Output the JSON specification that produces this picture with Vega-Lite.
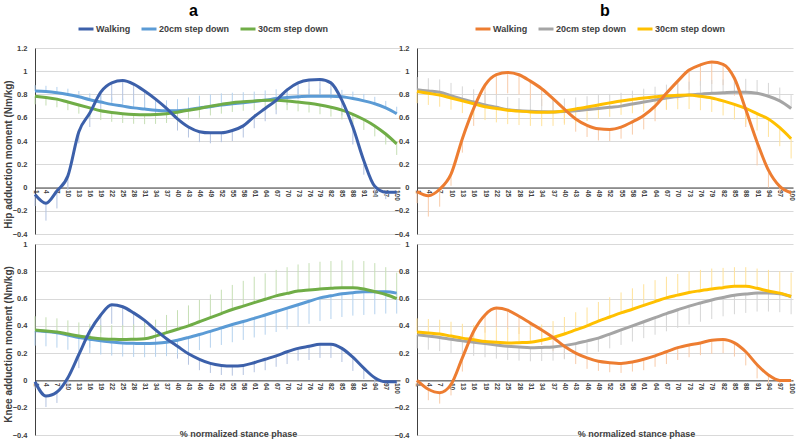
{
"$schema": "https://vega.github.io/schema/vega-lite/v6.json",
"padding": {"left": 3, "top": 3, "right": 0, "bottom": 0},
"background": "white",
"datasets": {
"hipA": [
{"x":1,"w":-0.06,"we":-0.16,"a":0.83,"ae":0.88,"b":0.785,"be":0.715},
{"x":4,"w":-0.135,"we":-0.285,"a":0.825,"ae":0.875,"b":0.775,"be":0.705},
{"x":7,"w":-0.03,"we":-0.18,"a":0.815,"ae":0.865,"b":0.76,"be":0.69},
{"x":10,"w":0.10,"we":-0.02,"a":0.80,"ae":0.85,"b":0.735,"be":0.665},
{"x":13,"w":0.48,"we":0.38,"a":0.78,"ae":0.83,"b":0.71,"be":0.635},
{"x":16,"w":0.64,"we":0.52,"a":0.755,"ae":0.81,"b":0.685,"be":0.605},
{"x":19,"w":0.82,"we":0.67,"a":0.735,"ae":0.79,"b":0.66,"be":0.58},
{"x":22,"w":0.90,"we":0.74,"a":0.715,"ae":0.775,"b":0.645,"be":0.565},
{"x":25,"w":0.92,"we":0.75,"a":0.70,"ae":0.765,"b":0.635,"be":0.555},
{"x":28,"w":0.89,"we":0.73,"a":0.685,"ae":0.755,"b":0.628,"be":0.548},
{"x":31,"w":0.83,"we":0.68,"a":0.675,"ae":0.75,"b":0.625,"be":0.545},
{"x":34,"w":0.76,"we":0.63,"a":0.665,"ae":0.745,"b":0.627,"be":0.547},
{"x":37,"w":0.68,"we":0.57,"a":0.66,"ae":0.75,"b":0.635,"be":0.555},
{"x":40,"w":0.59,"we":0.49,"a":0.66,"ae":0.76,"b":0.648,"be":0.568},
{"x":43,"w":0.52,"we":0.43,"a":0.67,"ae":0.775,"b":0.665,"be":0.585},
{"x":46,"w":0.48,"we":0.39,"a":0.685,"ae":0.79,"b":0.68,"be":0.60},
{"x":49,"w":0.47,"we":0.38,"a":0.695,"ae":0.80,"b":0.70,"be":0.62},
{"x":52,"w":0.47,"we":0.39,"a":0.71,"ae":0.81,"b":0.715,"be":0.635},
{"x":55,"w":0.49,"we":0.40,"a":0.72,"ae":0.815,"b":0.73,"be":0.65},
{"x":58,"w":0.53,"we":0.43,"a":0.73,"ae":0.82,"b":0.738,"be":0.66},
{"x":61,"w":0.61,"we":0.51,"a":0.74,"ae":0.825,"b":0.745,"be":0.665},
{"x":64,"w":0.68,"we":0.57,"a":0.75,"ae":0.835,"b":0.75,"be":0.67},
{"x":67,"w":0.75,"we":0.63,"a":0.765,"ae":0.845,"b":0.75,"be":0.67},
{"x":70,"w":0.84,"we":0.71,"a":0.775,"ae":0.85,"b":0.745,"be":0.665},
{"x":73,"w":0.90,"we":0.76,"a":0.78,"ae":0.85,"b":0.735,"be":0.655},
{"x":76,"w":0.925,"we":0.775,"a":0.785,"ae":0.85,"b":0.725,"be":0.645},
{"x":79,"w":0.93,"we":0.78,"a":0.785,"ae":0.85,"b":0.71,"be":0.63},
{"x":82,"w":0.90,"we":0.76,"a":0.785,"ae":0.85,"b":0.69,"be":0.61},
{"x":85,"w":0.75,"we":0.62,"a":0.78,"ae":0.84,"b":0.665,"be":0.585},
{"x":88,"w":0.52,"we":0.37,"a":0.765,"ae":0.825,"b":0.63,"be":0.545},
{"x":91,"w":0.23,"we":0.11,"a":0.745,"ae":0.805,"b":0.585,"be":0.495},
{"x":94,"w":0.01,"we":-0.08,"a":0.72,"ae":0.78,"b":0.53,"be":0.44},
{"x":97,"w":-0.04,"we":-0.10,"a":0.685,"ae":0.745,"b":0.46,"be":0.37},
{"x":100,"w":-0.04,"we":-0.09,"a":0.635,"ae":0.695,"b":0.375,"be":0.28}
],
"hipB": [
{"x":1,"w":-0.035,"we":-0.135,"a":0.84,"ae":0.95,"b":0.825,"be":0.725},
{"x":4,"w":-0.07,"we":-0.25,"a":0.83,"ae":0.94,"b":0.81,"be":0.71},
{"x":7,"w":-0.015,"we":-0.165,"a":0.82,"ae":0.93,"b":0.795,"be":0.695},
{"x":10,"w":0.115,"we":0.015,"a":0.79,"ae":0.90,"b":0.77,"be":0.67},
{"x":13,"w":0.42,"we":0.30,"a":0.76,"ae":0.87,"b":0.745,"be":0.64},
{"x":16,"w":0.68,"we":0.53,"a":0.735,"ae":0.845,"b":0.72,"be":0.61},
{"x":19,"w":0.88,"we":0.72,"a":0.71,"ae":0.82,"b":0.695,"be":0.58},
{"x":22,"w":0.97,"we":0.80,"a":0.69,"ae":0.80,"b":0.68,"be":0.56},
{"x":25,"w":0.99,"we":0.81,"a":0.67,"ae":0.78,"b":0.665,"be":0.545},
{"x":28,"w":0.97,"we":0.80,"a":0.66,"ae":0.77,"b":0.657,"be":0.537},
{"x":31,"w":0.915,"we":0.755,"a":0.655,"ae":0.765,"b":0.65,"be":0.53},
{"x":34,"w":0.85,"we":0.70,"a":0.652,"ae":0.762,"b":0.648,"be":0.528},
{"x":37,"w":0.765,"we":0.635,"a":0.65,"ae":0.76,"b":0.65,"be":0.53},
{"x":40,"w":0.675,"we":0.555,"a":0.653,"ae":0.765,"b":0.66,"be":0.54},
{"x":43,"w":0.59,"we":0.48,"a":0.66,"ae":0.775,"b":0.675,"be":0.555},
{"x":46,"w":0.535,"we":0.435,"a":0.67,"ae":0.785,"b":0.692,"be":0.572},
{"x":49,"w":0.505,"we":0.405,"a":0.68,"ae":0.795,"b":0.71,"be":0.59},
{"x":52,"w":0.50,"we":0.40,"a":0.69,"ae":0.805,"b":0.728,"be":0.608},
{"x":55,"w":0.52,"we":0.42,"a":0.70,"ae":0.815,"b":0.745,"be":0.625},
{"x":58,"w":0.565,"we":0.455,"a":0.718,"ae":0.833,"b":0.758,"be":0.638},
{"x":61,"w":0.62,"we":0.50,"a":0.735,"ae":0.85,"b":0.77,"be":0.65},
{"x":64,"w":0.70,"we":0.57,"a":0.752,"ae":0.867,"b":0.78,"be":0.66},
{"x":67,"w":0.81,"we":0.67,"a":0.77,"ae":0.885,"b":0.79,"be":0.67},
{"x":70,"w":0.915,"we":0.755,"a":0.783,"ae":0.898,"b":0.793,"be":0.673},
{"x":73,"w":1.01,"we":0.84,"a":0.795,"ae":0.91,"b":0.795,"be":0.675},
{"x":76,"w":1.055,"we":0.875,"a":0.803,"ae":0.918,"b":0.785,"be":0.665},
{"x":79,"w":1.08,"we":0.89,"a":0.81,"ae":0.925,"b":0.77,"be":0.65},
{"x":82,"w":1.06,"we":0.88,"a":0.815,"ae":0.93,"b":0.745,"be":0.62},
{"x":85,"w":0.94,"we":0.79,"a":0.82,"ae":0.935,"b":0.715,"be":0.585},
{"x":88,"w":0.67,"we":0.52,"a":0.82,"ae":0.935,"b":0.68,"be":0.545},
{"x":91,"w":0.39,"we":0.19,"a":0.81,"ae":0.925,"b":0.635,"be":0.49},
{"x":94,"w":0.15,"we":0.0,"a":0.785,"ae":0.90,"b":0.59,"be":0.435},
{"x":97,"w":0.01,"we":-0.05,"a":0.745,"ae":0.86,"b":0.515,"be":0.355},
{"x":100,"w":-0.045,"we":-0.075,"a":0.68,"ae":0.795,"b":0.42,"be":0.25}
],
"kneeA": [
{"x":1,"w":-0.01,"we":-0.06,"a":0.365,"ae":0.255,"b":0.37,"be":0.47},
{"x":4,"w":-0.115,"we":-0.195,"a":0.358,"ae":0.25,"b":0.363,"be":0.463},
{"x":7,"w":-0.085,"we":-0.165,"a":0.35,"ae":0.24,"b":0.355,"be":0.455},
{"x":10,"w":0.02,"we":-0.06,"a":0.333,"ae":0.225,"b":0.34,"be":0.44},
{"x":13,"w":0.19,"we":0.09,"a":0.315,"ae":0.21,"b":0.325,"be":0.425},
{"x":16,"w":0.36,"we":0.24,"a":0.302,"ae":0.20,"b":0.315,"be":0.415},
{"x":19,"w":0.48,"we":0.35,"a":0.29,"ae":0.19,"b":0.305,"be":0.405},
{"x":22,"w":0.555,"we":0.415,"a":0.282,"ae":0.182,"b":0.302,"be":0.405},
{"x":25,"w":0.54,"we":0.40,"a":0.275,"ae":0.175,"b":0.30,"be":0.405},
{"x":28,"w":0.495,"we":0.365,"a":0.272,"ae":0.172,"b":0.302,"be":0.41},
{"x":31,"w":0.44,"we":0.32,"a":0.27,"ae":0.17,"b":0.305,"be":0.42},
{"x":34,"w":0.37,"we":0.26,"a":0.273,"ae":0.173,"b":0.325,"be":0.445},
{"x":37,"w":0.305,"we":0.205,"a":0.28,"ae":0.178,"b":0.35,"be":0.48},
{"x":40,"w":0.25,"we":0.16,"a":0.295,"ae":0.19,"b":0.375,"be":0.515},
{"x":43,"w":0.195,"we":0.115,"a":0.315,"ae":0.205,"b":0.40,"be":0.55},
{"x":46,"w":0.155,"we":0.075,"a":0.337,"ae":0.222,"b":0.43,"be":0.59},
{"x":49,"w":0.125,"we":0.055,"a":0.36,"ae":0.24,"b":0.46,"be":0.63},
{"x":52,"w":0.11,"we":0.04,"a":0.385,"ae":0.26,"b":0.49,"be":0.665},
{"x":55,"w":0.105,"we":0.035,"a":0.41,"ae":0.28,"b":0.52,"be":0.70},
{"x":58,"w":0.11,"we":0.04,"a":0.432,"ae":0.297,"b":0.545,"be":0.73},
{"x":61,"w":0.13,"we":0.06,"a":0.455,"ae":0.315,"b":0.57,"be":0.76},
{"x":64,"w":0.155,"we":0.075,"a":0.48,"ae":0.335,"b":0.595,"be":0.785},
{"x":67,"w":0.18,"we":0.10,"a":0.505,"ae":0.355,"b":0.62,"be":0.81},
{"x":70,"w":0.21,"we":0.12,"a":0.53,"ae":0.375,"b":0.638,"be":0.83},
{"x":73,"w":0.235,"we":0.145,"a":0.555,"ae":0.395,"b":0.655,"be":0.85},
{"x":76,"w":0.25,"we":0.15,"a":0.58,"ae":0.415,"b":0.663,"be":0.86},
{"x":79,"w":0.265,"we":0.165,"a":0.605,"ae":0.435,"b":0.67,"be":0.87},
{"x":82,"w":0.265,"we":0.165,"a":0.62,"ae":0.45,"b":0.675,"be":0.875},
{"x":85,"w":0.235,"we":0.135,"a":0.635,"ae":0.465,"b":0.68,"be":0.88},
{"x":88,"w":0.17,"we":0.07,"a":0.643,"ae":0.475,"b":0.68,"be":0.88},
{"x":91,"w":0.09,"we":0.01,"a":0.65,"ae":0.48,"b":0.67,"be":0.875},
{"x":94,"w":0.02,"we":-0.02,"a":0.65,"ae":0.485,"b":0.65,"be":0.86},
{"x":97,"w":-0.01,"we":-0.03,"a":0.65,"ae":0.49,"b":0.63,"be":0.83},
{"x":100,"w":-0.01,"we":-0.03,"a":0.64,"ae":0.49,"b":0.60,"be":0.79}
],
"kneeB": [
{"x":1,"w":0.0,"we":-0.04,"a":0.335,"ae":0.235,"b":0.355,"be":0.455},
{"x":4,"w":-0.065,"we":-0.145,"a":0.325,"ae":0.225,"b":0.348,"be":0.45},
{"x":7,"w":-0.09,"we":-0.17,"a":0.315,"ae":0.215,"b":0.34,"be":0.445},
{"x":10,"w":-0.03,"we":-0.11,"a":0.302,"ae":0.202,"b":0.325,"be":0.43},
{"x":13,"w":0.165,"we":0.065,"a":0.29,"ae":0.19,"b":0.31,"be":0.415},
{"x":16,"w":0.36,"we":0.24,"a":0.28,"ae":0.18,"b":0.298,"be":0.405},
{"x":19,"w":0.48,"we":0.35,"a":0.27,"ae":0.17,"b":0.285,"be":0.395},
{"x":22,"w":0.53,"we":0.39,"a":0.26,"ae":0.16,"b":0.28,"be":0.39},
{"x":25,"w":0.515,"we":0.375,"a":0.25,"ae":0.15,"b":0.275,"be":0.385},
{"x":28,"w":0.47,"we":0.34,"a":0.245,"ae":0.145,"b":0.277,"be":0.39},
{"x":31,"w":0.42,"we":0.30,"a":0.24,"ae":0.14,"b":0.28,"be":0.395},
{"x":34,"w":0.37,"we":0.26,"a":0.242,"ae":0.142,"b":0.295,"be":0.41},
{"x":37,"w":0.315,"we":0.215,"a":0.245,"ae":0.145,"b":0.315,"be":0.435},
{"x":40,"w":0.25,"we":0.16,"a":0.255,"ae":0.155,"b":0.34,"be":0.465},
{"x":43,"w":0.20,"we":0.12,"a":0.27,"ae":0.17,"b":0.37,"be":0.50},
{"x":46,"w":0.165,"we":0.085,"a":0.29,"ae":0.19,"b":0.40,"be":0.535},
{"x":49,"w":0.14,"we":0.07,"a":0.31,"ae":0.21,"b":0.435,"be":0.575},
{"x":52,"w":0.13,"we":0.06,"a":0.34,"ae":0.235,"b":0.465,"be":0.61},
{"x":55,"w":0.125,"we":0.055,"a":0.37,"ae":0.26,"b":0.495,"be":0.645},
{"x":58,"w":0.135,"we":0.065,"a":0.40,"ae":0.285,"b":0.522,"be":0.675},
{"x":61,"w":0.155,"we":0.075,"a":0.43,"ae":0.31,"b":0.55,"be":0.705},
{"x":64,"w":0.18,"we":0.10,"a":0.46,"ae":0.335,"b":0.578,"be":0.735},
{"x":67,"w":0.21,"we":0.12,"a":0.49,"ae":0.36,"b":0.605,"be":0.76},
{"x":70,"w":0.24,"we":0.15,"a":0.518,"ae":0.385,"b":0.625,"be":0.78},
{"x":73,"w":0.26,"we":0.17,"a":0.545,"ae":0.41,"b":0.645,"be":0.80},
{"x":76,"w":0.275,"we":0.185,"a":0.568,"ae":0.43,"b":0.658,"be":0.81},
{"x":79,"w":0.295,"we":0.195,"a":0.59,"ae":0.45,"b":0.67,"be":0.82},
{"x":82,"w":0.30,"we":0.20,"a":0.608,"ae":0.47,"b":0.68,"be":0.825},
{"x":85,"w":0.275,"we":0.175,"a":0.625,"ae":0.485,"b":0.69,"be":0.83},
{"x":88,"w":0.21,"we":0.11,"a":0.633,"ae":0.495,"b":0.69,"be":0.83},
{"x":91,"w":0.115,"we":0.015,"a":0.64,"ae":0.505,"b":0.675,"be":0.82},
{"x":94,"w":0.04,"we":-0.02,"a":0.64,"ae":0.505,"b":0.655,"be":0.81},
{"x":97,"w":0.0,"we":-0.02,"a":0.635,"ae":0.50,"b":0.64,"be":0.80},
{"x":100,"w":0.0,"we":-0.01,"a":0.615,"ae":0.485,"b":0.615,"be":0.79}
]
},
"columns": 2,
"align": "each",
"bounds": "flush",
"spacing": {"row": 10, "column": 17},
"concat": [
{
"width": 365, "height": 186,
"data": {"name": "hipA"},
"title": {"text": "a", "dx": -24},
"encoding": {"x": {"field": "x", "type": "quantitative", "scale": {"domain": [1, 100.9], "nice": false, "zero": false}, "axis": {"offset": -46.5, "title": null, "values": [1,4,7,10,13,16,19,22,25,28,31,34,37,40,43,46,49,52,55,58,61,64,67,70,73,76,79,82,85,88,91,94,97,100]}}},
"layer": [
{"mark": {"type": "rule", "color": "#b4c3e0", "strokeWidth": 1}, "encoding": {"y": {"field": "w", "type": "quantitative", "scale": {"domain": [-0.4, 1.2], "nice": false, "zero": false}, "axis": {"title": "Hip adduction moment (Nm/kg)", "titleX": -26.5, "titleY": 106}}, "y2": {"field": "we"}}},
{"mark": {"type": "rule", "color": "#b5d2ee", "strokeWidth": 1}, "encoding": {"y": {"field": "a", "type": "quantitative"}, "y2": {"field": "ae"}}},
{"mark": {"type": "rule", "color": "#c6dfb5", "strokeWidth": 1}, "encoding": {"y": {"field": "b", "type": "quantitative"}, "y2": {"field": "be"}}},
{"mark": {"type": "line", "strokeWidth": 3, "interpolate": "monotone"}, "encoding": {"y": {"field": "a", "type": "quantitative"}, "color": {"datum": "20cm step down"}}},
{"mark": {"type": "line", "strokeWidth": 3, "interpolate": "monotone"}, "encoding": {"y": {"field": "b", "type": "quantitative"}, "color": {"datum": "30cm step down"}}},
{"mark": {"type": "line", "strokeWidth": 3, "interpolate": "monotone"}, "encoding": {"y": {"field": "w", "type": "quantitative"}, "color": {"datum": "Walking", "type": "nominal", "scale": {"domain": ["Walking", "20cm step down", "30cm step down"], "range": ["#3c60aa", "#5b9bd5", "#70ad47"]}, "legend": {"orient": "none", "legendX": 42, "legendY": -28}}}}
]
},
{
"width": 376, "height": 186,
"data": {"name": "hipB"},
"title": {"text": "b"},
"encoding": {"x": {"field": "x", "type": "quantitative", "scale": {"domain": [1, 100.5], "nice": false, "zero": false}, "axis": {"offset": -46.5, "title": null, "values": [1,4,7,10,13,16,19,22,25,28,31,34,37,40,43,46,49,52,55,58,61,64,67,70,73,76,79,82,85,88,91,94,97,100]}}},
"layer": [
{"mark": {"type": "rule", "color": "#f8cba9", "strokeWidth": 1}, "encoding": {"y": {"field": "w", "type": "quantitative", "scale": {"domain": [-0.4, 1.2], "nice": false, "zero": false}, "axis": {"title": null}}, "y2": {"field": "we"}}},
{"mark": {"type": "rule", "color": "#d6d6d6", "strokeWidth": 1}, "encoding": {"y": {"field": "a", "type": "quantitative"}, "y2": {"field": "ae"}}},
{"mark": {"type": "rule", "color": "#ffe29a", "strokeWidth": 1}, "encoding": {"y": {"field": "b", "type": "quantitative"}, "y2": {"field": "be"}}},
{"mark": {"type": "line", "strokeWidth": 3, "interpolate": "monotone"}, "encoding": {"y": {"field": "a", "type": "quantitative"}, "color": {"datum": "20cm step down"}}},
{"mark": {"type": "line", "strokeWidth": 3, "interpolate": "monotone"}, "encoding": {"y": {"field": "b", "type": "quantitative"}, "color": {"datum": "30cm step down"}}},
{"mark": {"type": "line", "strokeWidth": 3, "interpolate": "monotone"}, "encoding": {"y": {"field": "w", "type": "quantitative"}, "color": {"datum": "Walking", "type": "nominal", "scale": {"domain": ["Walking", "20cm step down", "30cm step down"], "range": ["#ed7d31", "#a5a5a5", "#ffc000"]}, "legend": {"orient": "none", "legendX": 57, "legendY": -28}}}}
]
},
{
"width": 365, "height": 191,
"data": {"name": "kneeA"},
"encoding": {"x": {"field": "x", "type": "quantitative", "scale": {"domain": [1, 100.9], "nice": false, "zero": false}, "axis": {"offset": -54.6, "title": "% normalized stance phase", "titleX": 203, "titleY": 53.5, "values": [1,4,7,10,13,16,19,22,25,28,31,34,37,40,43,46,49,52,55,58,61,64,67,70,73,76,79,82,85,88,91,94,97,100]}}},
"layer": [
{"mark": {"type": "rule", "color": "#b4c3e0", "strokeWidth": 1}, "encoding": {"y": {"field": "w", "type": "quantitative", "scale": {"domain": [-0.4, 1.0], "nice": false, "zero": false}, "axis": {"title": "Knee adduction moment (Nm/kg)", "titleX": -26.5, "titleY": 100}}, "y2": {"field": "we"}}},
{"mark": {"type": "rule", "color": "#b5d2ee", "strokeWidth": 1}, "encoding": {"y": {"field": "a", "type": "quantitative"}, "y2": {"field": "ae"}}},
{"mark": {"type": "rule", "color": "#c6dfb5", "strokeWidth": 1}, "encoding": {"y": {"field": "b", "type": "quantitative"}, "y2": {"field": "be"}}},
{"mark": {"type": "line", "strokeWidth": 3, "interpolate": "monotone"}, "encoding": {"y": {"field": "a", "type": "quantitative"}, "color": {"datum": "20cm step down"}}},
{"mark": {"type": "line", "strokeWidth": 3, "interpolate": "monotone"}, "encoding": {"y": {"field": "b", "type": "quantitative"}, "color": {"datum": "30cm step down"}}},
{"mark": {"type": "line", "strokeWidth": 3, "interpolate": "monotone"}, "encoding": {"y": {"field": "w", "type": "quantitative"}, "color": {"datum": "Walking", "type": "nominal", "scale": {"domain": ["Walking", "20cm step down", "30cm step down"], "range": ["#3c60aa", "#5b9bd5", "#70ad47"]}, "legend": null}}}
]
},
{
"width": 376, "height": 191,
"data": {"name": "kneeB"},
"encoding": {"x": {"field": "x", "type": "quantitative", "scale": {"domain": [1, 100.5], "nice": false, "zero": false}, "axis": {"offset": -54.6, "title": "% normalized stance phase", "titleX": 219, "titleY": 53.5, "values": [1,4,7,10,13,16,19,22,25,28,31,34,37,40,43,46,49,52,55,58,61,64,67,70,73,76,79,82,85,88,91,94,97,100]}}},
"layer": [
{"mark": {"type": "rule", "color": "#f8cba9", "strokeWidth": 1}, "encoding": {"y": {"field": "w", "type": "quantitative", "scale": {"domain": [-0.4, 1.0], "nice": false, "zero": false}, "axis": {"title": null}}, "y2": {"field": "we"}}},
{"mark": {"type": "rule", "color": "#d6d6d6", "strokeWidth": 1}, "encoding": {"y": {"field": "a", "type": "quantitative"}, "y2": {"field": "ae"}}},
{"mark": {"type": "rule", "color": "#ffe29a", "strokeWidth": 1}, "encoding": {"y": {"field": "b", "type": "quantitative"}, "y2": {"field": "be"}}},
{"mark": {"type": "line", "strokeWidth": 3, "interpolate": "monotone"}, "encoding": {"y": {"field": "a", "type": "quantitative"}, "color": {"datum": "20cm step down"}}},
{"mark": {"type": "line", "strokeWidth": 3, "interpolate": "monotone"}, "encoding": {"y": {"field": "b", "type": "quantitative"}, "color": {"datum": "30cm step down"}}},
{"mark": {"type": "line", "strokeWidth": 3, "interpolate": "monotone"}, "encoding": {"y": {"field": "w", "type": "quantitative"}, "color": {"datum": "Walking", "type": "nominal", "scale": {"domain": ["Walking", "20cm step down", "30cm step down"], "range": ["#ed7d31", "#a5a5a5", "#ffc000"]}, "legend": null}}}
]
}
],
"resolve": {"scale": {"color": "independent"}},
"config": {
"font": "Liberation Sans",
"view": {"stroke": null},
"title": {"fontSize": 16, "fontWeight": "bold", "color": "#000000", "anchor": "middle", "offset": 1},
"axis": {"labelFontWeight": "bold", "labelColor": "#404040", "titleColor": "#404040", "titleFontWeight": "bold", "ticks": false, "gridColor": "#d9d9d9", "gridWidth": 1, "domainColor": "#404040", "domainWidth": 1},
"axisY": {"labelFontSize": 7.5, "labelPadding": 8, "tickCount": 8, "format": "~g", "grid": true, "titleFontSize": 10, "titleBaseline": "middle", "titleAngle": -90},
"axisX": {"labelFontSize": 6.5, "labelAngle": 90, "labelAlign": "left", "labelBaseline": "middle", "grid": false, "labelPadding": 2, "labelOverlap": false, "labelFlush": false, "titleFontSize": 9, "titleBaseline": "middle", "titleAlign": "center"},
"legend": {"direction": "horizontal", "title": null, "symbolType": "stroke", "symbolStrokeWidth": 3, "symbolSize": 225, "labelFontSize": 9, "labelFontWeight": "bold", "labelColor": "#404040", "labelOffset": 1, "columnPadding": 4}
}
}
